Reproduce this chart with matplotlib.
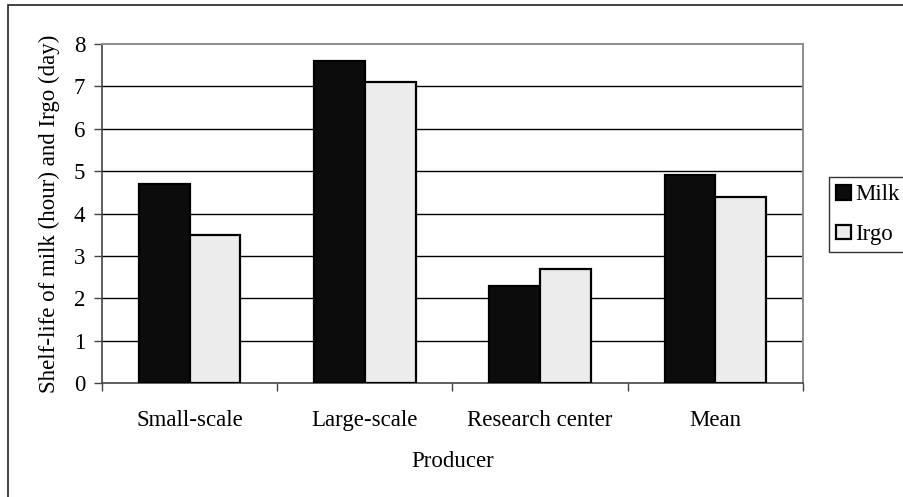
import matplotlib
matplotlib.use("Agg")
import matplotlib.pyplot as plt
from matplotlib.patches import Rectangle
import numpy as np

plt.rcParams['font.family'] = ['Liberation Serif', 'DejaVu Serif']

producers = ["Small-scale", "Large-scale", "Research center", "Mean"]
milk = [4.7, 7.6, 2.3, 4.9]
irgo = [3.5, 7.1, 2.7, 4.4]
series_names = ["Milk", "Irgo"]
y_ticks = [0, 1, 2, 3, 4, 5, 6, 7, 8]

W, H = 904, 497
FS = 16.5
fig = plt.figure(figsize=(W / 100, H / 100), dpi=100)

# outer chart frame
fig.patches.append(Rectangle((8 / W, -0.1), 1.2, 1 - 5 / H + 0.1,
                             transform=fig.transFigure, fill=False,
                             edgecolor="#222222", linewidth=1.2))

ax = fig.add_axes([102 / W, 1 - 383 / H, 701 / W, 339 / H])
x = np.arange(len(producers))
bw = 0.29
b1 = ax.bar(x - bw / 2, milk, bw, color="#0c0c0c", edgecolor="black",
            linewidth=1.6, zorder=3, label=series_names[0])
b2 = ax.bar(x + bw / 2, irgo, bw, color="#ececec", edgecolor="black",
            linewidth=1.6, zorder=3, label=series_names[1])

ax.set_xlim(-0.5, len(producers) - 0.5)
ax.set_ylim(0, 8)
ax.set_yticks(y_ticks)
ax.set_yticklabels([str(t) for t in y_ticks], fontsize=FS)
for t in y_ticks[1:-1]:
    ax.axhline(t, color="black", linewidth=1, zorder=1)

ax.set_xticks(x)
ax.set_xticklabels(producers, fontsize=FS)
ax.tick_params(axis="x", which="major", length=0, pad=19.5)
ax.set_xticks(np.arange(-0.5, len(producers)), minor=True)
ax.tick_params(axis="x", which="minor", length=6, width=1, color="#444444")
ax.tick_params(axis="y", length=6, width=1, color="#444444", pad=6)

for side in ["top", "right"]:
    ax.spines[side].set_color("#8c8c8c")
    ax.spines[side].set_linewidth(1.4)
for side in ["left", "bottom"]:
    ax.spines[side].set_color("#444444")
    ax.spines[side].set_linewidth(1.2)

ax.set_ylabel("Shelf-life of milk (hour) and Irgo (day)", fontsize=FS, labelpad=10)
ax.set_xlabel("Producer", fontsize=FS, labelpad=14)

leg = fig.legend(handles=[b1, b2], labels=series_names, loc="upper left",
                 bbox_to_anchor=(829 / W, 1 - 177 / H), borderaxespad=0,
                 fontsize=FS, frameon=True, fancybox=False, shadow=False,
                 handlelength=0.62, handleheight=0.62, handletextpad=0.2,
                 borderpad=0.32, labelspacing=0.82)
leg.get_frame().set_edgecolor("black")
leg.get_frame().set_linewidth(1)

fig.savefig("out.png", dpi=100)
